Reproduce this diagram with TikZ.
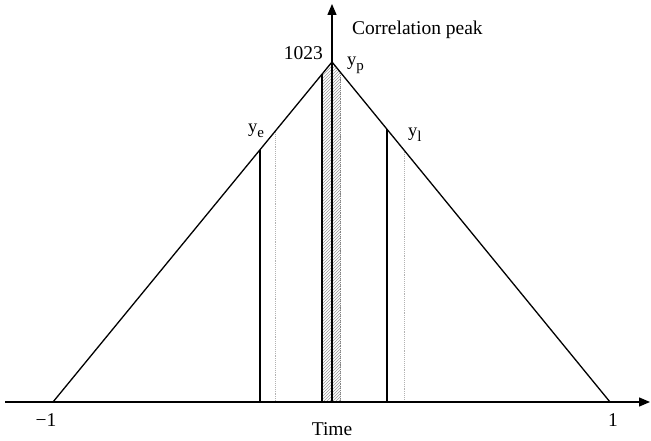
\documentclass[tikz,border=0pt]{standalone}
\usepackage{fontspec}
\setmainfont{Liberation Serif}
\usetikzlibrary{arrows.meta,patterns,calc}
\newcommand{\ysub}[1]{\fontsize{18.5}{21}\selectfont y\raisebox{-5pt}{\fontsize{15}{17}\selectfont #1}}
\tikzset{
  axisline/.style={line width=1.4pt,-{Triangle[length=11pt,width=9pt]}},
  tri/.style={line width=1.3pt},
  solidmark/.style={line width=1.3pt},
  dotmark/.style={line width=0.9pt,densely dotted,gray!60},
  lbl/.style={inner sep=0pt,font=\fontsize{19.5}{22}\selectfont},
}
\begin{document}
\begin{tikzpicture}[x=1pt,y=1pt]
\useasboundingbox (0,0) rectangle (651,440);
% key points
\coordinate (O) at (332,38);
\coordinate (P) at (332,378);
\coordinate (L) at (53,38);
\coordinate (R) at (610,38);
\coordinate (xs) at (5,38);
\coordinate (xe) at (650,38);
\coordinate (ye) at (332,436);
% points on the triangle
\coordinate (e)  at ($(L)!0.742!(P)$);
\coordinate (ed) at ($(L)!0.799!(P)$);
\coordinate (c1) at ($(L)!0.964!(P)$);
\coordinate (l)  at ($(R)!0.802!(P)$);
\coordinate (ld) at ($(R)!0.741!(P)$);
\coordinate (c2) at ($(R)!0.968!(P)$);
% hatched band
\fill[pattern=north east lines,pattern color=gray!80] (c1 |- O) -- (c1) -- (P) -- (c2) -- (c2 |- O) -- cycle;
% dotted lines
\draw[dotmark] (ed) -- (ed |- O);
\draw[dotmark] (ld) -- (ld |- O);
\draw[dotmark,gray] (c2) -- (c2 |- O);
% solid lines
\draw[solidmark] (e) -- (e |- O);
\draw[solidmark] (l) -- (l |- O);
\draw[solidmark] (c1) -- (c1 |- O);
% triangle
\draw[tri] (L) -- (P) -- (R);
% axes
\draw[axisline] (xs) -- (xe);
\draw[axisline] (O) -- (ye);
% labels
\node[lbl,anchor=base west] (cp) at (352,405) {Correlation peak};
\node[lbl,anchor=base east] (n1023) at (323,380) {1023};
\node[lbl,anchor=base west] (yp) at (347,374) {\ysub{p}};
\node[lbl,anchor=base west] (yee) at (248,307) {\ysub{e}};
\node[lbl,anchor=base west] (yl) at (408,303) {\ysub{l}};
\node[lbl,anchor=base] (m1) at (46,14) {−1};
\node[lbl,anchor=base] (p1) at (613,14) {1};
\node[lbl,anchor=base] (time) at (332,5) {Time};
\end{tikzpicture}
\end{document}
